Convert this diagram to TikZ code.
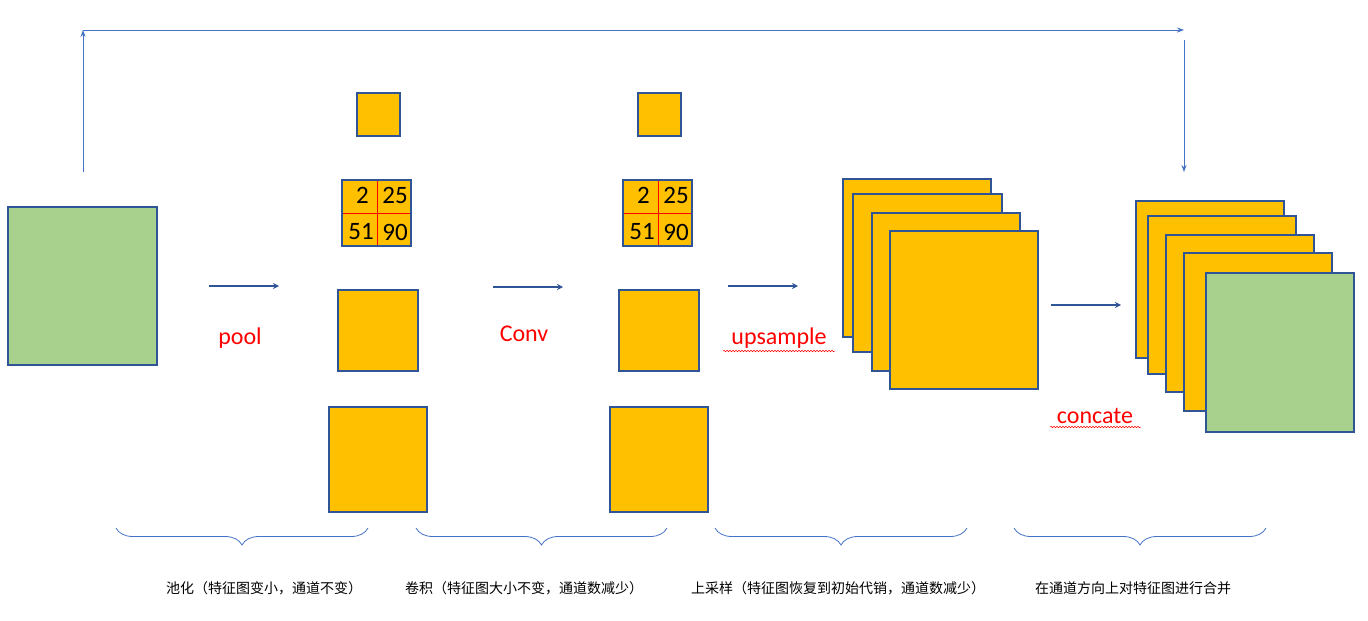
\documentclass[tikz,border=0pt]{standalone}
\usepackage{fontspec}
\setmainfont{Carlito}
\newfontfamily\cjk{Noto Sans CJK SC}
\usetikzlibrary{arrows.meta,decorations.pathreplacing,decorations.pathmorphing}
\definecolor{gr}{HTML}{A9D18E}
\definecolor{og}{HTML}{FFC000}
\definecolor{bd}{HTML}{2F5597}
\definecolor{ln}{HTML}{4472C4}
\tikzset{
  fm/.style={draw=bd,line width=1.5pt},
  gbox/.style={fm,fill=gr},
  obox/.style={fm,fill=og},
  op/.style={draw=bd,line width=2.5pt,-{Stealth[length=6pt,width=6pt]}},
  thinarr/.style={draw=ln,line width=0.8pt,-{Stealth[length=7pt,width=5pt]}},
  lab/.style={text=red,font=\fontsize{24}{26}\selectfont,anchor=center},
  num/.style={font=\fontsize{25}{27}\selectfont,inner sep=0pt},
  br/.style={draw=ln,line width=0.8pt,decorate,decoration={brace,amplitude=17pt}},
  captxt/.style={font=\cjk\fontsize{14}{16}\selectfont}
}
\begin{document}
\begin{tikzpicture}[x=1pt,y=-1pt]
\useasboundingbox (0,0) rectangle (1368,621);
% input
\draw[gbox] (8,207) rectangle (157,365);
\coordinate (in) at (83,172);
\coordinate (tl) at (83,30);
\coordinate (tr) at (1184,30);
\coordinate (trs) at (1184,40);
\coordinate (out) at (1184,172);
\draw[thinarr] (in) -- (tl);
\draw[thinarr] (tl) -- (tr);
\draw[thinarr] (trs) -- (out);
% pool
\coordinate (a1) at (209,286); \coordinate (a2) at (279,286);
\draw[op] (a1) -- (a2);
\node[lab] (pool) at (240,338) {pool};
% columns
\foreach \dx/\gx in {0/342,281/623}{
  \draw[obox] (357+\dx,93) rectangle (400+\dx,136);
  \draw[obox] (\gx,180) rectangle (\gx+69,246);
  \draw[red,line width=0.8pt] (\gx+35,181) -- (\gx+35,245) (\gx+1,213) -- (\gx+68,213);
  \node[num,anchor=east] at (\gx+27,195) {2};
  \node[num] at (\gx+53,195) {25};
  \node[num] at (\gx+19,232) {51};
  \node[num] at (\gx+53,232) {90};
  \draw[obox] (338+\dx,290) rectangle (418+\dx,371);
  \draw[obox] (329+\dx,407) rectangle (427+\dx,512);
}
\coordinate (b1) at (493,287); \coordinate (b2) at (563,287);
\draw[op] (b1) -- (b2);
\node[lab] (conv) at (524,334) {Conv};
\coordinate (c1) at (728,286); \coordinate (c2) at (798,286);
\draw[op] (c1) -- (c2);
\node[lab] (up) at (779,338) {upsample};
\draw[red,line width=0.5pt,decorate,decoration={snake,amplitude=0.8pt,segment length=3pt}] (723,351) -- (835,351);
% stack 1
\draw[obox] (843,179) rectangle (991,337);
\draw[obox] (853,194) rectangle (1002,352);
\draw[obox] (872,213) rectangle (1020,371);
\draw[obox] (890,231) rectangle (1038,389);
\coordinate (d1) at (1051,305); \coordinate (d2) at (1121,305);
\draw[op] (d1) -- (d2);
\node[lab] (cc) at (1095,416) {concate};
\draw[red,line width=0.5pt,decorate,decoration={snake,amplitude=0.8pt,segment length=3pt}] (1050,427) -- (1141,427);
% stack 2
\draw[obox] (1136,201) rectangle (1284,358);
\draw[obox] (1148,216) rectangle (1296,374);
\draw[obox] (1166,235) rectangle (1314,392);
\draw[obox] (1184,253) rectangle (1332,411);
\draw[gbox] (1206,273) rectangle (1354,432);
% braces
\foreach \l/\r in {116/368,416/667,715/967,1014/1266}{
  \draw[br] (\r,528) -- (\l,528);
}
\node[captxt] at (264,588) {池化（特征图变小，通道不变）};
\node[captxt] at (524,588) {卷积（特征图大小不变，通道数减少）};
\node[captxt] at (838,588) {上采样（特征图恢复到初始代销，通道数减少）};
\node[captxt] at (1133,588) {在通道方向上对特征图进行合并};
\end{tikzpicture}
\end{document}
